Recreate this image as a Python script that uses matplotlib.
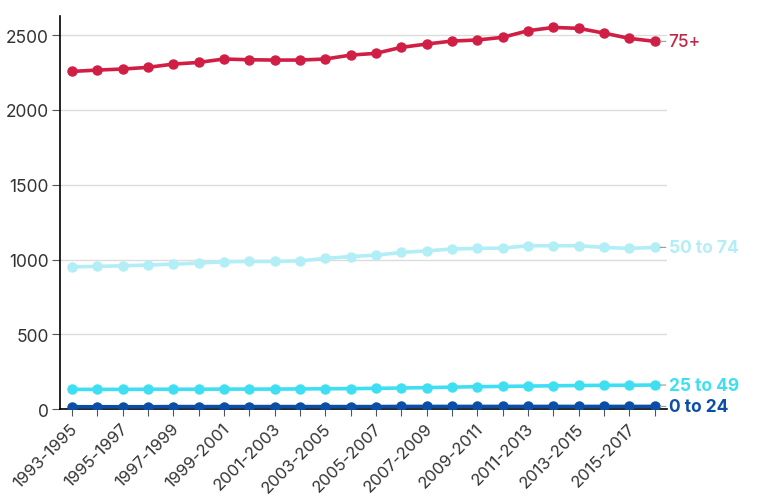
import matplotlib
matplotlib.use("Agg")
import matplotlib.pyplot as plt
import matplotlib.transforms as mtransforms

plt.rcParams['font.family'] = ['Inter', 'DejaVu Sans']

periods = [f"{y}-{y+2}" for y in range(1993, 2017)]

series_names = ["75+", "50 to 74", "25 to 49", "0 to 24"]
v75 = [2257, 2266, 2273, 2284, 2306, 2317, 2340, 2335, 2333, 2333, 2340, 2366,
       2378, 2418, 2440, 2460, 2467, 2485, 2529, 2551, 2545, 2513, 2478, 2458]
v50 = [951, 954, 958, 963, 969, 976, 985, 987, 987, 991, 1007, 1020,
       1029, 1047, 1058, 1070, 1074, 1076, 1092, 1092, 1092, 1081, 1074, 1081]
v25 = [132, 132, 132, 133, 133, 133, 134, 134, 134, 135, 136, 137,
       139, 141, 144, 147, 150, 152, 154, 156, 158, 159, 160, 161]
v0 = [16, 16, 16, 16, 17, 17, 17, 17, 17, 17, 17, 17,
      17, 18, 18, 18, 18, 18, 18, 18, 18, 18, 18, 18]

line_colors = ["#d01e45", "#b2eef5", "#3fdff3", "#0b4ea6"]
label_colors = ["#c0284a", "#b2eef5", "#3fdff3", "#0b4ea6"]
label_weights = ["medium", "bold", "bold", "bold"]

fig = plt.figure(figsize=(7.68, 5.02), dpi=100)
ax = fig.add_axes([0.078, 0.183, 0.790, 0.783])

x = list(range(len(periods)))
all_vals = [v75, v50, v25, v0]
for vals, c in zip(all_vals, line_colors):
    ax.plot(x, vals, color=c, lw=2.6, marker='o', ms=6.5, zorder=3,
            solid_capstyle='round')

ax.set_ylim(0, 2627)
ax.set_xlim(-0.47, len(periods) - 1 + 0.47)
ax.set_yticks([0, 500, 1000, 1500, 2000, 2500])
ax.set_yticklabels(["0", "500", "1000", "1500", "2000", "2500"])
ax.yaxis.grid(True, color="#dcdcdc", lw=1)
ax.set_axisbelow(True)

ax.set_xticks(x)
ax.set_xticklabels([p if i % 2 == 0 else "" for i, p in enumerate(periods)],
                   rotation=45, ha='right', rotation_mode='anchor')

ax.tick_params(axis='y', length=6, color="#555555", labelsize=12.5,
               labelcolor="#333333", pad=2)
ax.tick_params(axis='x', length=5, color="#555555", labelsize=12,
               labelcolor="#333333", pad=3)

shift = mtransforms.ScaledTranslation(-1.5 / 72, 0, fig.dpi_scale_trans)
for lbl in ax.get_xticklabels():
    lbl.set_transform(lbl.get_transform() + shift)

for s in ["top", "right"]:
    ax.spines[s].set_visible(False)
for s in ["left", "bottom"]:
    ax.spines[s].set_color("black")
    ax.spines[s].set_linewidth(1.2)

# End labels
last = len(periods) - 1
for name, vals, c, w in zip(series_names, all_vals, label_colors, label_weights):
    ax.annotate("", xy=(last, vals[-1]), xytext=(8, 0),
                textcoords='offset points', annotation_clip=False,
                arrowprops=dict(arrowstyle='-', color='#999999', lw=0.8,
                                shrinkA=0, shrinkB=4))
    ax.annotate(name, xy=(last, vals[-1]), xytext=(10, 0),
                textcoords='offset points', va='center', ha='left',
                color=c, fontsize=12.5, fontweight=w, annotation_clip=False)

fig.savefig("out.png", dpi=100)
